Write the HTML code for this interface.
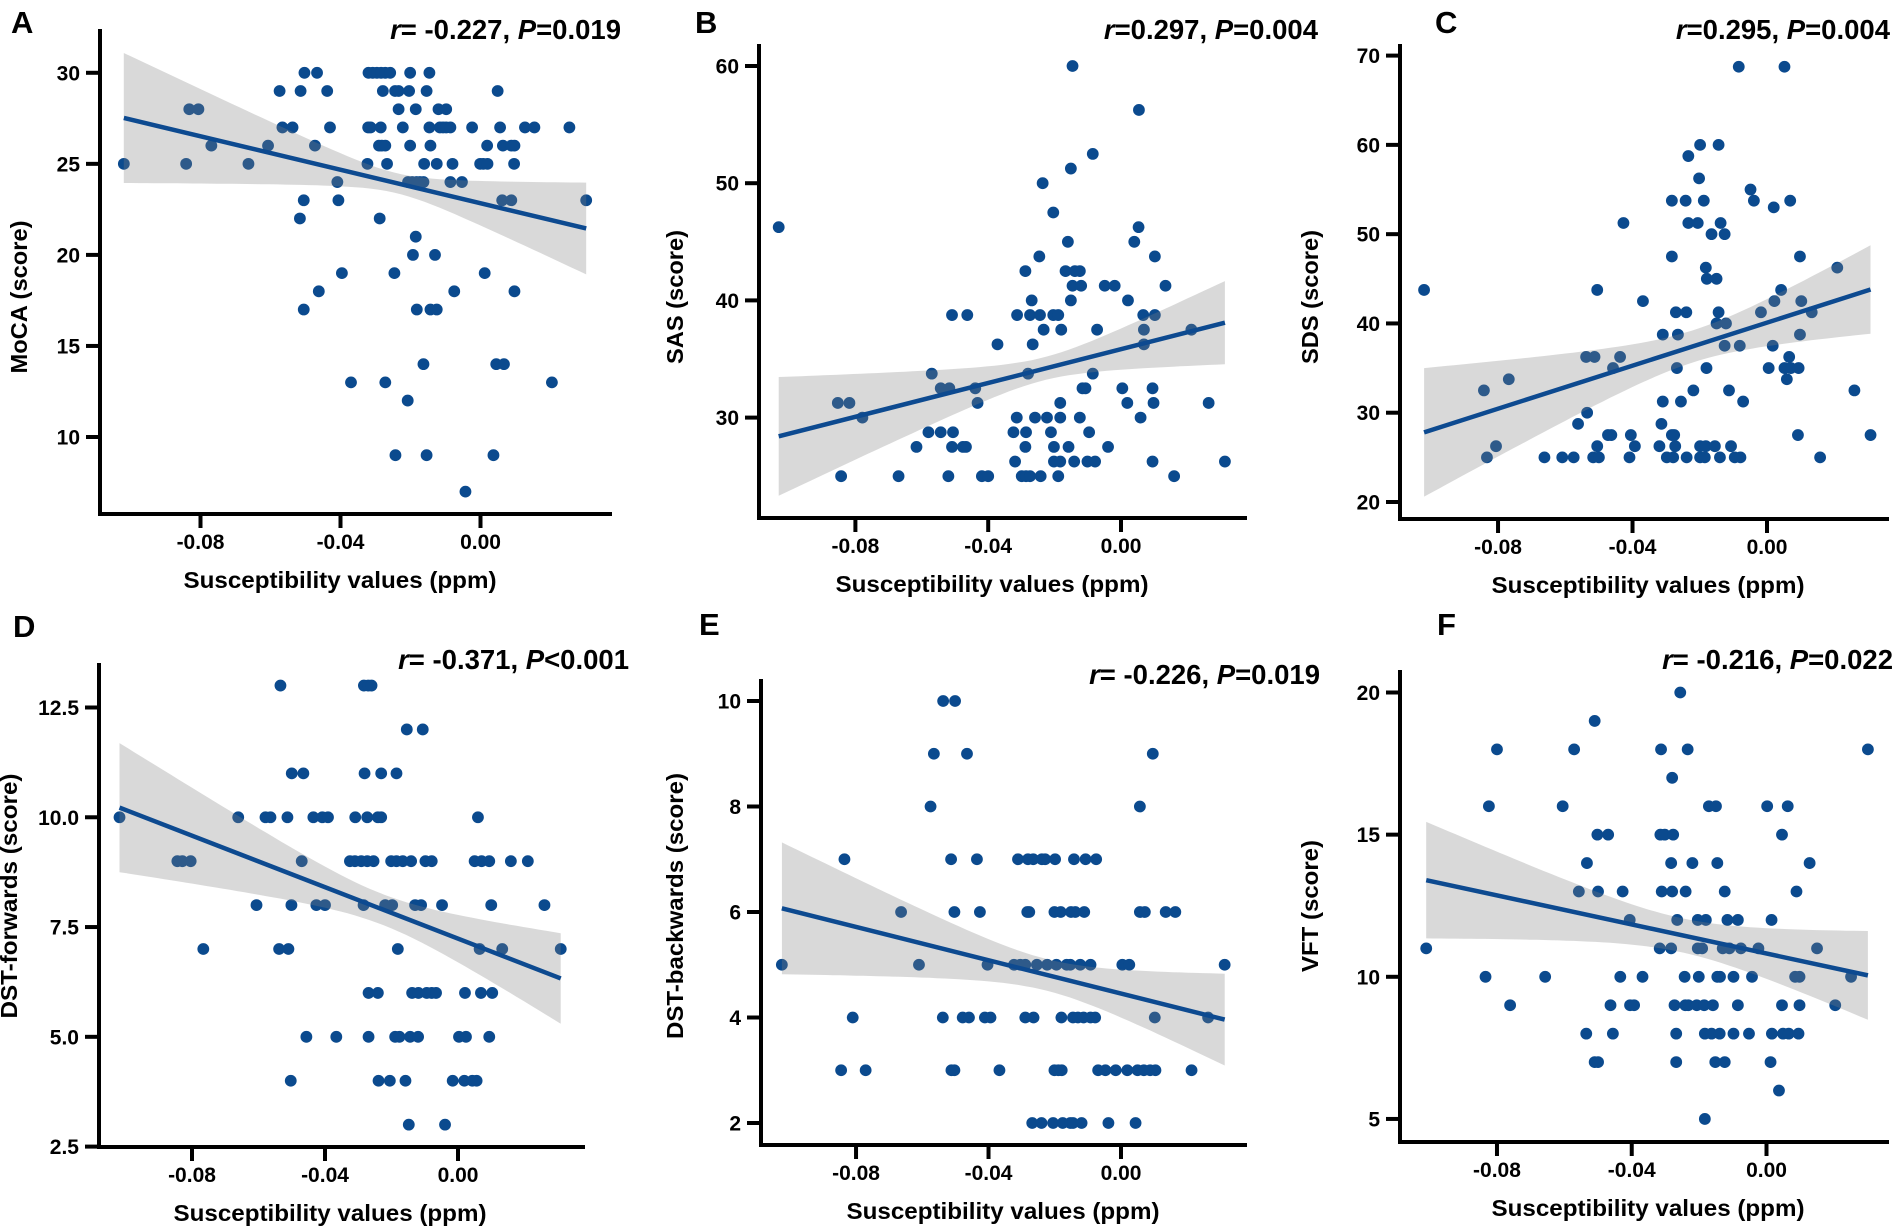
<!DOCTYPE html>
<html><head><meta charset="utf-8"><style>
html,body{margin:0;padding:0;background:#fff;}
svg{display:block;font-family:"Liberation Sans",Arial,sans-serif;font-weight:bold;}
</style></head><body>
<svg id="fig" width="1902" height="1232" viewBox="0 0 1902 1232" xmlns="http://www.w3.org/2000/svg"></svg>
<script>
// ---------- DATA ----------
const mocaLevels=[30,29,28,27,26,25,24,23,22,21,20,19,18,17,14,13,12,9,7];
const mocaX=[
[-0.0503,-0.0467,-0.0320,-0.0308,-0.0296,-0.0284,-0.0272,-0.0258,-0.0201,-0.0146],
[-0.0574,-0.0514,-0.0438,-0.0279,-0.0244,-0.0234,-0.0204,-0.0154,0.0049],
[-0.0832,-0.0806,-0.0234,-0.0185,-0.0120,-0.0098],
[-0.0566,-0.0537,-0.0430,-0.0321,-0.0314,-0.0285,-0.0222,-0.0146,-0.0116,-0.0107,-0.0098,-0.0086,-0.0024,0.0056,0.0127,0.0154,0.0254],
[-0.0769,-0.0607,-0.0473,-0.0290,-0.0282,-0.0272,-0.0201,-0.0143,0.0019,0.0064,0.0088,0.0097],
[-0.1019,-0.0841,-0.0663,-0.0323,-0.0267,-0.0161,-0.0125,-0.0080,-0.0001,0.0008,0.0020,0.0096],
[-0.0409,-0.0207,-0.0195,-0.0183,-0.0173,-0.0163,-0.0086,-0.0053],
[-0.0505,-0.0406,0.0062,0.0088,0.0302],
[-0.0516,-0.0288],
[-0.0185],
[-0.0193,-0.0130],
[-0.0396,-0.0246,0.0012],
[-0.0462,-0.0075,0.0097],
[-0.0505,-0.0182,-0.0143,-0.0125],
[-0.0163,0.0045,0.0067],
[-0.0370,-0.0272,0.0204],
[-0.0208],
[-0.0243,-0.0154,0.0037],
[-0.0043]];
const mocaFit=[27.52,21.45];
const mocaBand=[3.57,0.55,2.52];

const sasLevels=[60,56.25,52.5,51.25,50,47.5,46.25,45,43.75,42.5,41.25,40,38.75,37.5,36.25,33.75,32.5,31.25,30,28.75,27.5,26.25,25];
const sasX=[
[-0.0146],[0.0054],[-0.0085],[-0.0151],[-0.0236],[-0.0204],
[-0.1031,0.0053],
[-0.0160,0.0040],
[-0.0246,0.0102],
[-0.0288,-0.0167,-0.0139,-0.0124],
[-0.0146,-0.0120,-0.0049,-0.0019,0.0134],
[-0.0269,-0.0151,0.0021],
[-0.0509,-0.0463,-0.0313,-0.0274,-0.0244,-0.0204,-0.0189,0.0067,0.0102],
[-0.0233,-0.0180,-0.0072,0.0069,0.0212],
[-0.0372,-0.0266,0.0069],
[-0.0570,-0.0280,-0.0085],
[-0.0543,-0.0517,-0.0439,-0.0116,-0.0107,0.0004,0.0095],
[-0.0853,-0.0818,-0.0432,-0.0183,0.0019,0.0098,0.0264],
[-0.0779,-0.0314,-0.0259,-0.0223,-0.0183,-0.0124,0.0059],
[-0.0580,-0.0543,-0.0506,-0.0324,-0.0286,-0.0211,-0.0096],
[-0.0616,-0.0509,-0.0476,-0.0467,-0.0288,-0.0202,-0.0158,-0.0039],
[-0.0319,-0.0202,-0.0183,-0.0141,-0.0101,-0.0078,0.0095,0.0313],
[-0.0843,-0.0670,-0.0520,-0.0419,-0.0400,-0.0299,-0.0286,-0.0274,-0.0242,-0.0189,0.0160]];
const sasFit=[28.4,38.1];
const sasBand=[5.06,0.98,3.55];

const sdsLevels=[68.75,60,58.75,56.25,55,53.75,53,51.25,50,47.5,46.25,45,43.75,42.5,41.25,40,38.75,37.5,36.25,35,33.75,32.5,31.25,30,28.75,27.5,26.25,25];
const sdsX=[
[-0.0084,0.0052],
[-0.0199,-0.0144],
[-0.0234],
[-0.0202],
[-0.0049],
[-0.0283,-0.0242,-0.0188,-0.0039,0.0069],
[0.0020],
[-0.0427,-0.0234,-0.0206,-0.0138],
[-0.0165,-0.0126],
[-0.0283,0.0098],
[-0.0182,0.0209],
[-0.0179,-0.0150],
[-0.1020,-0.0505,0.0042],
[-0.0369,0.0022,0.0102],
[-0.0271,-0.0240,-0.0144,-0.0018,0.0133],
[-0.0150,-0.0122],
[-0.0310,-0.0265,0.0098],
[-0.0126,-0.0081,0.0017],
[-0.0538,-0.0513,-0.0437,0.0066],
[-0.0458,-0.0268,-0.0180,0.0005,0.0052,0.0071,0.0094],
[-0.0768,0.0059],
[-0.0842,-0.0219,-0.0113,0.0260],
[-0.0310,-0.0256,-0.0071],
[-0.0535],
[-0.0562,-0.0314],
[-0.0473,-0.0463,-0.0405,-0.0283,-0.0276,0.0092,0.0308],
[-0.0806,-0.0505,-0.0393,-0.0320,-0.0273,-0.0199,-0.0182,-0.0155,-0.0107],
[-0.0833,-0.0662,-0.0609,-0.0575,-0.0517,-0.0500,-0.0409,-0.0298,-0.0279,-0.0239,-0.0199,-0.0185,-0.0140,-0.0096,-0.0079,0.0158]];
const sdsFit=[27.8,43.8];
const sdsBand=[7.2,1.8,4.95];

const dstfLevels=[13,12,11,10,9,8,7,6,5,4,3];
const dstfX=[
[-0.0534,-0.0283,-0.0270,-0.0260],
[-0.0154,-0.0106],
[-0.0500,-0.0465,-0.0281,-0.0231,-0.0185],
[-0.1018,-0.0661,-0.0579,-0.0564,-0.0513,-0.0435,-0.0408,-0.0391,-0.0309,-0.0273,-0.0241,-0.0231,0.0060],
[-0.0844,-0.0829,-0.0804,-0.0470,-0.0325,-0.0310,-0.0291,-0.0273,-0.0254,-0.0201,-0.0185,-0.0166,-0.0141,-0.0098,-0.0079,0.0050,0.0071,0.0094,0.0159,0.0210],
[-0.0606,-0.0501,-0.0426,-0.0400,-0.0284,-0.0219,-0.0198,-0.0129,-0.0111,-0.0048,0.0100,0.0260],
[-0.0766,-0.0538,-0.0510,-0.0181,0.0065,0.0133,0.0309],
[-0.0269,-0.0241,-0.0138,-0.0119,-0.0094,-0.0079,-0.0066,0.0021,0.0069,0.0103],
[-0.0456,-0.0366,-0.0269,-0.0189,-0.0176,-0.0144,-0.0120,0.0003,0.0024,0.0094],
[-0.0503,-0.0239,-0.0205,-0.0158,-0.0016,0.0019,0.0043,0.0056],
[-0.0148,-0.0039]];
const dstfFit=[10.22,6.33];
const dstfBand=[1.47,0.35,1.03];

const dstbLevels=[10,9,8,7,6,5,4,3,2];
const dstbX=[
[-0.0537,-0.0501],
[-0.0565,-0.0465,0.0096],
[-0.0575,0.0057],
[-0.0835,-0.0513,-0.0435,-0.0311,-0.0281,-0.0265,-0.0239,-0.0229,-0.0199,-0.0142,-0.0107,-0.0075],
[-0.0664,-0.0503,-0.0426,-0.0283,-0.0277,-0.0201,-0.0182,-0.0151,-0.0138,-0.0111,0.0057,0.0072,0.0135,0.0164],
[-0.1024,-0.0610,-0.0403,-0.0323,-0.0304,-0.0289,-0.0254,-0.0223,-0.0195,-0.0164,-0.0153,-0.0123,-0.0092,0.0004,0.0025,0.0313],
[-0.0810,-0.0538,-0.0478,-0.0459,-0.0411,-0.0394,-0.0289,-0.0264,-0.0180,-0.0145,-0.0130,-0.0113,-0.0092,-0.0078,0.0102,0.0263],
[-0.0845,-0.0771,-0.0512,-0.0503,-0.0367,-0.0201,-0.0189,-0.0179,-0.0069,-0.0047,-0.0016,0.0019,0.0050,0.0069,0.0088,0.0104,0.0213],
[-0.0268,-0.0240,-0.0205,-0.0176,-0.0153,-0.0145,-0.0119,-0.0038,0.0044]];
const dstbFit=[6.07,3.96];
const dstbBand=[1.25,0.3,0.87];

const vftLevels=[20,19,18,17,16,15,14,13,12,11,10,9,8,7,6,5];
const vftX=[
[-0.0256],
[-0.0510],
[-0.0800,-0.0571,-0.0313,-0.0234,0.0301],
[-0.0280],
[-0.0824,-0.0605,-0.0171,-0.0150,0.0002,0.0063],
[-0.0502,-0.0470,-0.0315,-0.0302,-0.0277,0.0046],
[-0.0533,-0.0283,-0.0220,-0.0146,0.0128],
[-0.0557,-0.0500,-0.0427,-0.0311,-0.0280,-0.0240,-0.0124,0.0089],
[-0.0406,-0.0265,-0.0204,-0.0180,-0.0116,-0.0085,0.0015],
[-0.1010,-0.0317,-0.0283,-0.0204,-0.0191,-0.0130,-0.0110,-0.0076,-0.0024,0.0150],
[-0.0834,-0.0657,-0.0434,-0.0368,-0.0243,-0.0201,-0.0146,-0.0138,-0.0098,-0.0043,0.0085,0.0098,0.0251],
[-0.0761,-0.0463,-0.0405,-0.0393,-0.0273,-0.0241,-0.0232,-0.0207,-0.0185,-0.0159,-0.0085,0.0046,0.0098,0.0204],
[-0.0535,-0.0456,-0.0268,-0.0183,-0.0163,-0.0139,-0.0098,-0.0052,0.0016,0.0049,0.0066,0.0095],
[-0.0510,-0.0500,-0.0268,-0.0152,-0.0124,0.0012],
[0.0037],
[-0.0183]];
const vftFit=[13.4,10.05];
const vftBand=[2.05,0.6,1.56];

const xTickVals=[-0.08,-0.04,0.00];
const xTickLabels=["-0.08","-0.04","0.00"];

// ---------- DRAWING ----------
const NS="http://www.w3.org/2000/svg";
const svg=document.getElementById('fig');
function mk(tag,attrs,parent){const e=document.createElementNS(NS,tag);for(const k in attrs)e.setAttribute(k,attrs[k]);(parent||svg).appendChild(e);return e;}

function panel(p){
  const g=mk('g',{});
  
  
  const xs=v=>p.x0px+v*p.xppu;
  const ys=v=>p.yRefPx+(p.yRef-v)*p.yppu;
  const pts=mk('g',{},g);
  
  
  let all=[];
  p.levels.forEach((lv,i)=>{p.xg[i].forEach(xv=>{all.push(xv);
    const c=mk('circle',{cx:xs(xv),cy:ys(lv),r:5.9,fill:'#0b4a8e'},pts);
    
    
  });});
  const xL=Math.min(...all), xR=Math.max(...all);
  const yL=p.fit[0], yR=p.fit[1];
  const yhat=x=>yL+(yR-yL)*(x-xL)/(xR-xL);
  const [hL,h0,hR]=p.band;
  const r=Math.sqrt((hL*hL-h0*h0)/(hR*hR-h0*h0));
  const xm=(xL+r*xR)/(1+r);
  const k=(hR*hR-h0*h0)/((xR-xm)*(xR-xm));
  const hw=x=>Math.sqrt(h0*h0+k*(x-xm)*(x-xm));
  let up=[],lo=[];
  const N=60;
  for(let i=0;i<=N;i++){const x=xL+(xR-xL)*i/N;up.push(xs(x).toFixed(1)+','+ys(yhat(x)+hw(x)).toFixed(1));lo.push(xs(x).toFixed(1)+','+ys(yhat(x)-hw(x)).toFixed(1));}
  const band=mk('path',{d:'M'+up.join(' L')+' L'+lo.reverse().join(' L')+'Z',fill:'rgb(128,128,128)','fill-opacity':0.3,stroke:'none'},g);
  
  
  const ln=mk('line',{x1:xs(xL),y1:ys(yL),x2:xs(xR),y2:ys(yR),stroke:'#0d4a90','stroke-width':4.5},g);
  
  
  const ya=mk('line',{x1:p.ax,y1:p.top,x2:p.ax,y2:p.ay+2,stroke:'#000','stroke-width':4},g);
  
  
  const xa=mk('line',{x1:p.ax-2,y1:p.ay,x2:p.right,y2:p.ay,stroke:'#000','stroke-width':4},g);
  
  
  xTickVals.forEach((v,i)=>{
    const X=xs(v);
    mk('line',{x1:X,y1:p.ay,x2:X,y2:p.ay+14,stroke:'#000','stroke-width':4},g);
    const t=mk('text',{x:X,y:p.ay+35,'text-anchor':'middle','font-size':21,fill:'#000'},g);
    t.textContent=xTickLabels[i];
    
    
  });
  p.yticks.forEach((v,i)=>{
    const Y=ys(v);
    mk('line',{x1:p.ax-14,y1:Y,x2:p.ax,y2:Y,stroke:'#000','stroke-width':4},g);
    const t=mk('text',{x:p.ax-20,y:Y+7.5,'text-anchor':'end','font-size':21,fill:'#000'},g);
    t.textContent=p.ytickLabels[i];
    
    
  });
  const xt=mk('text',{x:p.xtitleX,y:p.ay+74,'text-anchor':'middle','font-size':23,fill:'#000',textLength:313,lengthAdjust:'spacingAndGlyphs'},g);
  xt.textContent='Susceptibility values (ppm)';
  
  
  const yt=mk('text',{x:0,y:0,'text-anchor':'middle','font-size':23,fill:'#000',transform:`translate(${p.ytitleX},${p.ytitleY}) rotate(-90)`,textLength:p.ytitleLen,lengthAdjust:'spacingAndGlyphs'},g);
  yt.textContent=p.ytitle;
  
  
  const lt=mk('text',{x:p.letterX,y:p.letterY,'font-size':31,fill:'#000'},g);
  lt.textContent=p.letter;
  
  
  const st=mk('text',{x:p.statX,y:p.statY,'text-anchor':'end','font-size':27.5,fill:'#000'},g);
  
  
  const a=mk('tspan',{'font-style':'italic'},st);a.textContent='r';
  const b=mk('tspan',{},st);b.textContent=p.rText+', ';
  const c=mk('tspan',{'font-style':'italic'},st);c.textContent='P';
  const d=mk('tspan',{},st);d.textContent=p.pText;
}

panel({name:'moca',levels:mocaLevels,xg:mocaX,fit:mocaFit,band:mocaBand,
  x0px:480.5,xppu:3500,yRef:30,yRefPx:72.8,yppu:18.21,ax:100,ay:514,top:29,right:612,
  yticks:[10,15,20,25,30],ytickLabels:['10','15','20','25','30'],xtitleX:340,ytitle:'MoCA (score)',ytitleX:27,ytitleY:297,ytitleLen:153,
  letter:'A',letterX:11,letterY:33,statX:621,statY:39,rText:'= -0.227',pText:'=0.019'});
panel({name:'sas',levels:sasLevels,xg:sasX,fit:sasFit,band:sasBand,
  x0px:1121,xppu:3320,yRef:60,yRefPx:66,yppu:11.72,ax:759,ay:518,top:44,right:1247,
  yticks:[30,40,50,60],ytickLabels:['30','40','50','60'],xtitleX:992,ytitle:'SAS (score)',ytitleX:683,ytitleY:297,ytitleLen:134,
  letter:'B',letterX:695,letterY:33,statX:1318,statY:39,rText:'=0.297',pText:'=0.004'});
panel({name:'sds',levels:sdsLevels,xg:sdsX,fit:sdsFit,band:sdsBand,
  x0px:1767,xppu:3362,yRef:70,yRefPx:55.6,yppu:8.928,ax:1400,ay:519,top:44,right:1889,
  yticks:[20,30,40,50,60,70],ytickLabels:['20','30','40','50','60','70'],xtitleX:1648,ytitle:'SDS (score)',ytitleX:1318,ytitleY:297,ytitleLen:134,
  letter:'C',letterX:1435,letterY:33,statX:1890,statY:39,rText:'=0.295',pText:'=0.004'});
panel({name:'dst-forwards',levels:dstfLevels,xg:dstfX,fit:dstfFit,band:dstfBand,
  x0px:458,xppu:3325,yRef:12.5,yRefPx:707.5,yppu:43.91,ax:99,ay:1147,top:663,right:585,
  yticks:[2.5,5,7.5,10,12.5],ytickLabels:['2.5','5.0','7.5','10.0','12.5'],xtitleX:330,ytitle:'DST-forwards (score)',ytitleX:17,ytitleY:896,ytitleLen:245,
  letter:'D',letterX:13,letterY:637,statX:629,statY:669,rText:'= -0.371',pText:'<0.001'});
panel({name:'dst-backwards',levels:dstbLevels,xg:dstbX,fit:dstbFit,band:dstbBand,
  x0px:1121,xppu:3312,yRef:10,yRefPx:701,yppu:52.75,ax:761,ay:1145,top:679,right:1247,
  yticks:[2,4,6,8,10],ytickLabels:['2','4','6','8','10'],xtitleX:1003,ytitle:'DST-backwards (score)',ytitleX:683,ytitleY:906,ytitleLen:266,
  letter:'E',letterX:699,letterY:635,statX:1320,statY:684,rText:'= -0.226',pText:'=0.019'});
panel({name:'vft',levels:vftLevels,xg:vftX,fit:vftFit,band:vftBand,
  x0px:1766.5,xppu:3369,yRef:20,yRefPx:692.5,yppu:28.43,ax:1400,ay:1142,top:670,right:1889,
  yticks:[5,10,15,20],ytickLabels:['5','10','15','20'],xtitleX:1648,ytitle:'VFT (score)',ytitleX:1318,ytitleY:906,ytitleLen:132,
  letter:'F',letterX:1437,letterY:635,statX:1893,statY:669,rText:'= -0.216',pText:'=0.022'});
</script>
</body></html>
